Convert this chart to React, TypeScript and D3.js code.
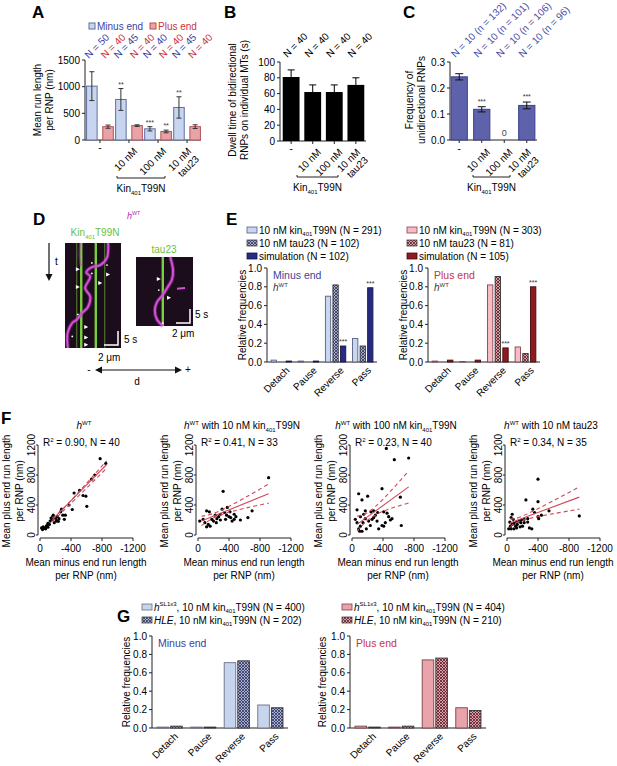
import React from 'react';
import * as d3 from 'd3';

const FONT = '"Liberation Sans", Arial, Helvetica, sans-serif';
const W = 617;
const H = 766;

const BLUE_TXT = '#3d3fa0';
const RED_TXT = '#cc3340';

// ---------- A: run length ----------
const conditions = ['-', '10 nM', '100 nM', '10 nM|tau23'];
const runMinus = [1010, 760, 210, 610];
const runMinusErr = [270, 205, 40, 200];
const runPlus = [250, 270, 160, 250];
const runPlusErr = [30, 15, 25, 35];
const runMinusN = ['N = 50', 'N = 45', 'N = 40', 'N = 45'];
const runPlusN = ['N = 40', 'N = 40', 'N = 40', 'N = 40'];
const runMinusStars = ['', '**', '***', '**'];
const runPlusStars = ['', '', '**', ''];
const runTicks = [0, 500, 1000, 1500];

// ---------- B: dwell time ----------
const dwell = [81, 62, 62, 71];
const dwellErr = [9, 9, 9, 9];
const dwellN = ['N = 40', 'N = 40', 'N = 40', 'N = 40'];
const dwellTicks = [0, 20, 40, 60, 80, 100];

// ---------- C: unidirectional ----------
const uniFreq = [0.243, 0.118, 0, 0.133];
const uniErr = [0.012, 0.01, 0, 0.013];
const uniN = ['N = 10 (n = 132)', 'N = 10 (n = 101)', 'N = 10 (n = 106)', 'N = 10 (n = 96)'];
const uniStars = ['', '***', '', '***'];
const uniTicks = [0, 0.1, 0.2, 0.3];

// ---------- D: kymographs (relative 0-1 coords) ----------
const kymo1Trace = [[0.77, 0], [0.75, 0.14], [0.63, 0.21], [0.48, 0.23], [0.38, 0.28], [0.45, 0.32], [0.36, 0.43], [0.45, 0.51], [0.41, 0.61], [0.3, 0.67], [0.21, 0.73], [0.13, 0.76], [0.05, 0.85], [0.04, 0.92], [0.05, 1]];
const kymo1Faint = [[0.27, 0], [0.26, 0.12], [0.28, 0.22]];
const kymo1Green = [0.21, 0.29, 0.55, 0.71];
const kymo1Bright = [false, true, true, false];
const kymo1Heads = [[0.23, 0.25], [0.23, 0.42], [0.38, 0.8], [0.38, 0.9], [0.38, 0.97], [0.77, 0.3], [0.63, 0.38]];
const kymo1Dots = [[0.48, 0.19], [0.48, 0.29], [0.75, 0.21], [0.23, 0.68], [0.13, 0.89]];
const kymo2Trace = [[0.6, 0], [0.65, 0.19], [0.63, 0.33], [0.56, 0.43], [0.47, 0.55], [0.37, 0.65], [0.33, 0.77], [0.37, 0.91], [0.47, 1]];
const kymo2Blip = [[0.72, 0.46], [0.86, 0.45]];
const kymo2Green = [0.47];
const kymo2Heads = [[0.4, 0.32], [0.58, 0.59]];
const kymo2Dots = [[0.4, 0.48], [0.47, 0.96]];

// ---------- E: outcomes at MT intersections ----------
const outcomes = ['Detach', 'Pause', 'Reverse', 'Pass'];
const eMinusKin = [0.02, 0.01, 0.7, 0.25];
const eMinusTau = [0, 0, 0.82, 0.17];
const eMinusSim = [0.01, 0.01, 0.17, 0.79];
const ePlusKin = [0.01, 0.005, 0.82, 0.16];
const ePlusTau = [0, 0, 0.91, 0.09];
const ePlusSim = [0.02, 0.02, 0.15, 0.8];
const eSimStars = ['', '', '***', '***'];
const freqTicks = [0, 0.2, 0.4, 0.6, 0.8, 1.0];

// ---------- F: scatter of run lengths (minus, plus) ----------
const scatterWT = [[-776, 1018], [-849, 955], [-706, 800], [-665, 745], [-510, 595], [-555, 527], [-592, 518], [-440, 560], [-604, 382], [-375, 400], [-416, 340], [-278, 345], [-265, 309], [-314, 209], [-294, 264], [-224, 245], [-163, 245], [-184, 232], [-204, 209], [-155, 209], [-131, 186], [-102, 155], [-82, 118], [-41, 109], [-20, 95], [-61, 91], [-122, 141], [-102, 105], [-143, 227], [-184, 164], [-212, 186], [-245, 218], [-73, 82], [-90, 127], [-171, 264], [-327, 264], [-237, 182], [-33, 73]];
const scatterKin10 = [[-911, 764], [-324, 582], [-111, 323], [-147, 309], [-67, 209], [-133, 141], [-156, 118], [-200, 186], [-244, 218], [-267, 245], [-289, 277], [-311, 345], [-342, 300], [-369, 264], [-400, 245], [-422, 232], [-467, 209], [-489, 245], [-547, 200], [-644, 232], [-698, 323], [-467, 277], [-222, 264], [-111, 109], [-89, 164], [-178, 209], [-378, 368], [-413, 309], [-440, 186], [-356, 209], [-22, 186], [-289, 200], [-236, 164]];
const scatterKin100 = [[-443, 1155], [-546, 1005], [-731, 1027], [-387, 618], [-624, 505], [-86, 550], [-129, 468], [-202, 518], [-65, 336], [-172, 323], [-245, 309], [-280, 323], [-301, 264], [-331, 300], [-409, 309], [-452, 291], [-473, 245], [-516, 218], [-636, 127], [-409, 118], [-430, 164], [-323, 186], [-258, 209], [-215, 186], [-172, 218], [-142, 164], [-108, 118], [-86, 82], [-129, 50], [-185, 82], [-237, 127], [-65, 164], [-43, 209], [-99, 50], [-280, 232], [-151, 277], [-344, 82], [-387, 127], [-108, 245], [-495, 200]];
const scatterTau = [[-400, 745], [-244, 468], [-400, 445], [-542, 323], [-933, 255], [-333, 345], [-356, 300], [-400, 245], [-409, 218], [-267, 218], [-222, 209], [-187, 200], [-156, 186], [-124, 173], [-89, 155], [-67, 141], [-44, 118], [-22, 82], [-53, 82], [-89, 82], [-124, 95], [-289, 95], [-320, 82], [-67, 277], [-53, 232], [-178, 164], [-222, 164], [-267, 173], [-133, 141], [-200, 118], [-36, 173], [-80, 209], [-444, 264], [-169, 109], [-111, 118]];
const fitWT = [[-160, 205], [-860, 940]];
const upWT = [[-160, 230], [-350, 405], [-860, 990]];
const loWT = [[-160, 180], [-350, 370], [-860, 890]];
const fitKin10 = [[-44, 186], [-911, 550]];
const upKin10 = [[-44, 250], [-330, 345], [-911, 680]];
const loKin10 = [[-44, 125], [-330, 280], [-911, 425]];
const fitKin100 = [[-65, 141], [-731, 641]];
const upKin100 = [[-65, 250], [-300, 377], [-731, 855]];
const loKin100 = [[-65, 50], [-300, 267], [-731, 427]];
const fitTau = [[-44, 164], [-933, 505]];
const upTau = [[-44, 218], [-250, 275], [-933, 641]];
const loTau = [[-44, 109], [-250, 210], [-933, 345]];
const scatterXTicks = [0, -400, -800, -1200];
const scatterYTicks = [0, 400, 800, 1200];

// ---------- G: other RNAs ----------
const gMinusSL = [0.01, 0.01, 0.71, 0.25];
const gMinusHLE = [0.02, 0.01, 0.73, 0.22];
const gPlusSL = [0.02, 0.01, 0.74, 0.22];
const gPlusHLE = [0.01, 0.02, 0.76, 0.19];

type Seg = { t: string; s?: 'sup' | 'sub'; i?: boolean };
function rich(segs: Seg[], fs: number) {
  let cur = 0;
  return segs.map((g, k) => {
    const target = g.s === 'sup' ? -fs * 0.42 : g.s === 'sub' ? fs * 0.28 : 0;
    const dy = target - cur;
    cur = target;
    return (
      <tspan key={k} dy={dy} fontSize={g.s ? fs * 0.6 : fs} fontStyle={g.i ? 'italic' : 'normal'}>
        {g.t}
      </tspan>
    );
  });
}

const kinSegs: Seg[] = [{ t: 'Kin' }, { t: '401', s: 'sub' }, { t: 'T99N' }];

function YAxis({ x, scale, ticks, fmt, fs = 10 }: any) {
  const [r0, r1] = scale.range();
  return (
    <g>
      <line x1={x} x2={x} y1={r0} y2={r1} stroke="#222" strokeWidth={1} />
      {ticks.map((t: number) => (
        <g key={t}>
          <line x1={x - 3} x2={x} y1={scale(t)} y2={scale(t)} stroke="#222" />
          <text x={x - 5} y={scale(t)} dy="0.36em" textAnchor="end" fontSize={fs}>
            {fmt ? fmt(t) : t}
          </text>
        </g>
      ))}
    </g>
  );
}

function YLabel({ x, y, lines, fs = 10, gap = 12 }: any) {
  return (
    <text transform={`translate(${x},${y}) rotate(-90)`} textAnchor="middle" fontSize={fs}>
      {lines.map((l: string, i: number) => (
        <tspan key={i} x={0} dy={i === 0 ? 0 : gap}>
          {l}
        </tspan>
      ))}
    </text>
  );
}

function CondLabels({ x, y, fs = 10 }: any) {
  return (
    <g>
      {conditions.map((c) => {
        const cx = x(c) + x.bandwidth() / 2;
        const parts = c.split('|');
        if (c === '-') {
          return (
            <text key={c} x={cx} y={y + 4} textAnchor="middle" fontSize={fs}>
              -
            </text>
          );
        }
        return (
          <text key={c} transform={`translate(${cx + (parts.length > 1 ? 0 : 4)},${y}) rotate(-45)`} textAnchor="end" fontSize={fs}>
            {parts.map((p, i) => (
              <tspan key={i} x={0} dy={i === 0 ? '0.7em' : '1.1em'}>
                {p}
              </tspan>
            ))}
          </text>
        );
      })}
    </g>
  );
}

function Bracket({ x1, x2, y, fs = 10 }: any) {
  return (
    <g>
      <path d={`M${x1},${y - 2}V${y}H${x2}V${y - 2}`} fill="none" stroke="#222" />
      <text x={(x1 + x2) / 2} y={y + 14} textAnchor="middle" fontSize={fs}>
        {rich(kinSegs, fs)}
      </text>
    </g>
  );
}

function ErrBar({ cx, y1, y2, w = 5, color = '#222', top = false }: any) {
  return (
    <g stroke={color} strokeWidth={1}>
      <line x1={cx} x2={cx} y1={y1} y2={y2} />
      <line x1={cx - w / 2} x2={cx + w / 2} y1={y2} y2={y2} />
      {!top && <line x1={cx - w / 2} x2={cx + w / 2} y1={y1} y2={y1} />}
    </g>
  );
}

function PanelA() {
  const x = d3.scaleBand<string>().domain(conditions).range([86, 201]).paddingInner(0.08).paddingOuter(0.02);
  const sub = d3.scaleBand<string>().domain(['m', 'p']).range([0, x.bandwidth()]).paddingInner(0.35);
  const y = d3.scaleLinear().domain([0, 1500]).range([140, 60]);
  const bw = sub.bandwidth();
  return (
    <g>
      <text x={32} y={18} fontSize={17} fontWeight="bold">A</text>
      <rect x={89} y={23} width={6} height={6} fill="#c7d5f0" stroke="#5f6e9e" />
      <text x={97} y={29.5} fontSize={10} fill={BLUE_TXT}>Minus end</text>
      <rect x={150} y={23} width={6} height={6} fill="#e9a3a6" stroke="#b3525a" />
      <text x={158} y={29.5} fontSize={10} fill={RED_TXT}>Plus end</text>
      <YAxis x={85} scale={y} ticks={runTicks} />
      <line x1={85} x2={201} y1={140} y2={140} stroke="#222" />
      <YLabel x={41} y={100} lines={['Mean run length', 'per RNP (nm)']} />
      {conditions.map((c, i) => {
        const xm = x(c)! + sub('m')!;
        const xp = x(c)! + sub('p')!;
        return (
          <g key={c}>
            <line x1={x(c)! + x.bandwidth() / 2} x2={x(c)! + x.bandwidth() / 2} y1={140} y2={143} stroke="#222" />
            <rect x={xm} y={y(runMinus[i])} width={bw} height={140 - y(runMinus[i])} fill="#c7d5f0" stroke="#5f6e9e" />
            <rect x={xp} y={y(runPlus[i])} width={bw} height={140 - y(runPlus[i])} fill="#e9a3a6" stroke="#b3525a" />
            <ErrBar cx={xm + bw / 2} y1={y(runMinus[i] - runMinusErr[i])} y2={y(runMinus[i] + runMinusErr[i])} w={5} color="#333" />
            <ErrBar cx={xp + bw / 2} y1={y(runPlus[i] - runPlusErr[i])} y2={y(runPlus[i] + runPlusErr[i])} w={5} color="#333" />
            <text x={xm + bw / 2} y={y(runMinus[i] + runMinusErr[i]) - 2} textAnchor="middle" fontSize={7} fill="#333">{runMinusStars[i]}</text>
            <text x={xp + bw / 2} y={y(runPlus[i] + runPlusErr[i]) - 2} textAnchor="middle" fontSize={7} fill="#333">{runPlusStars[i]}</text>
            <text transform={`translate(${xm + bw / 2 - 3},${59}) rotate(-45)`} fontSize={10} fill={BLUE_TXT}>{runMinusN[i]}</text>
            <text transform={`translate(${xp + bw / 2 - 3},${59}) rotate(-45)`} fontSize={10} fill={RED_TXT}>{runPlusN[i]}</text>
          </g>
        );
      })}
      <CondLabels x={x} y={147} />
      <Bracket x1={117} x2={165} y={178} />
    </g>
  );
}

function PanelB() {
  const x = d3.scaleBand<string>().domain(conditions).range([281, 366]).paddingInner(0.22).paddingOuter(0.08);
  const y = d3.scaleLinear().domain([0, 100]).range([141, 62]);
  const bw = x.bandwidth();
  return (
    <g>
      <text x={224} y={18} fontSize={17} fontWeight="bold">B</text>
      <YAxis x={280} scale={y} ticks={dwellTicks} />
      <line x1={280} x2={366} y1={141} y2={141} stroke="#222" />
      <YLabel x={236} y={100} lines={['Dwell time of bidirectional', 'RNPs on individual MTs (s)']} />
      {conditions.map((c, i) => {
        const cx = x(c)! + bw / 2;
        return (
          <g key={c}>
            <line x1={cx} x2={cx} y1={141} y2={144} stroke="#222" />
            <rect x={x(c)} y={y(dwell[i])} width={bw} height={141 - y(dwell[i])} fill="#000" />
            <ErrBar cx={cx} y1={y(dwell[i])} y2={y(dwell[i] + dwellErr[i])} w={7} color="#000" top />
            <text transform={`translate(${cx - 4},${58}) rotate(-45)`} fontSize={10}>{dwellN[i]}</text>
          </g>
        );
      })}
      <CondLabels x={x} y={148} />
      <Bracket x1={297} x2={338} y={177} />
    </g>
  );
}

function PanelC() {
  const x = d3.scaleBand<string>().domain(conditions).range([450, 536]).paddingInner(0.28).paddingOuter(0.05);
  const y = d3.scaleLinear().domain([0, 0.3]).range([140, 62]);
  const bw = x.bandwidth();
  return (
    <g>
      <text x={403} y={18} fontSize={17} fontWeight="bold">C</text>
      <YAxis x={450} scale={y} ticks={uniTicks} fmt={d3.format('.1f')} />
      <line x1={450} x2={537} y1={140} y2={140} stroke="#222" />
      <YLabel x={413} y={100} lines={['Frequency of', 'unidirectional RNPs']} />
      {conditions.map((c, i) => {
        const cx = x(c)! + bw / 2;
        return (
          <g key={c}>
            <line x1={cx} x2={cx} y1={140} y2={143} stroke="#222" />
            {uniFreq[i] > 0 && (
              <>
                <rect x={x(c)} y={y(uniFreq[i])} width={bw} height={140 - y(uniFreq[i])} fill="#5d62ab" stroke="#3b3f8c" />
                <ErrBar cx={cx} y1={y(uniFreq[i] - uniErr[i])} y2={y(uniFreq[i] + uniErr[i])} w={8} color="#111" />
              </>
            )}
            {uniFreq[i] === 0 && (
              <text x={cx} y={136} textAnchor="middle" fontSize={9} fill="#444">0</text>
            )}
            <text x={cx} y={y(uniFreq[i] + uniErr[i]) - 3} textAnchor="middle" fontSize={7} fill="#333">{uniStars[i]}</text>
            <text transform={`translate(${cx - 4},${58}) rotate(-45)`} fontSize={10} fill="#4a4fa6">{uniN[i]}</text>
          </g>
        );
      })}
      <CondLabels x={x} y={148} />
      <Bracket x1={473} x2={510} y={177} />
    </g>
  );
}

function Kymo({ x0, y0, w, h, trace, faint, green, bright, heads, dots, blip }: any) {
  const sx = d3.scaleLinear().domain([0, 1]).range([x0, x0 + w]);
  const sy = d3.scaleLinear().domain([0, 1]).range([y0, y0 + h]);
  const line = d3.line<number[]>().x((d) => sx(d[0])).y((d) => sy(d[1])).curve(d3.curveCatmullRom);
  return (
    <g>
      <rect x={x0} y={y0} width={w} height={h} fill="#1c0d1c" />
      {green.map((g: number, i: number) => (
        <line key={i} x1={sx(g)} x2={sx(g)} y1={y0} y2={y0 + h} stroke="#79cf3c" strokeWidth={bright[i] ? 2.4 : 0.9} opacity={bright[i] ? 1 : 0.7} />
      ))}
      {faint && <path d={line(faint)!} fill="none" stroke="#b53cb8" strokeWidth={2} opacity={0.55} />}
      <path d={line(trace)!} fill="none" stroke="#b23ab6" strokeWidth={4} opacity={0.45} />
      <path d={line(trace)!} fill="none" stroke="#d64fd8" strokeWidth={2} />
      {blip && <path d={line(blip)!} fill="none" stroke="#d64fd8" strokeWidth={2} />}
      {heads.map((p: number[], i: number) => (
        <path key={i} d={`M${sx(p[0]) - 2},${sy(p[1]) - 2}L${sx(p[0]) + 2},${sy(p[1])}L${sx(p[0]) - 2},${sy(p[1]) + 2}Z`} fill="#fff" />
      ))}
      {dots.map((p: number[], i: number) => (
        <circle key={i} cx={sx(p[0])} cy={sy(p[1])} r={0.9} fill="#fff" />
      ))}
      <path d={`M${x0 + w - 17},${y0 + h - 3}H${x0 + w - 3}V${y0 + h - 17}`} fill="none" stroke="#fff" strokeWidth={1.5} />
    </g>
  );
}

function PanelD() {
  return (
    <g>
      <text x={33} y={225} fontSize={17} fontWeight="bold">D</text>
      <text x={127} y={219} fontSize={9} fill="#b02ab4">{rich([{ t: 'h', i: true }, { t: 'WT', s: 'sup' }], 9)}</text>
      <text x={95} y={236} textAnchor="middle" fontSize={10} fill="#6cbf38">{rich(kinSegs, 10)}</text>
      <text x={164} y={253} textAnchor="middle" fontSize={10} fill="#6cbf38">tau23</text>
      <Kymo x0={65} y0={243} w={56} h={105} trace={kymo1Trace} faint={kymo1Faint} green={kymo1Green} bright={kymo1Bright} heads={kymo1Heads} dots={kymo1Dots} />
      <Kymo x0={136} y0={257} w={57} h={69} trace={kymo2Trace} green={kymo2Green} bright={[true]} heads={kymo2Heads} dots={kymo2Dots} blip={kymo2Blip} />
      <text x={124} y={343} fontSize={10}>5 s</text>
      <text x={98} y={361} fontSize={10}>2 μm</text>
      <text x={195} y={318} fontSize={10}>5 s</text>
      <text x={172} y={337} fontSize={10}>2 μm</text>
      <line x1={49} x2={49} y1={243} y2={276} stroke="#111" strokeWidth={1.2} />
      <path d="M45.5,274L49,281L52.5,274Z" fill="#111" />
      <text x={55} y={265} fontSize={10}>t</text>
      <line x1={100} x2={177} y1={370} y2={370} stroke="#111" strokeWidth={1.2} />
      <path d="M95,370L102,366.5L102,373.5Z" fill="#111" />
      <path d="M182,370L175,366.5L175,373.5Z" fill="#111" />
      <text x={89} y={373} fontSize={10} textAnchor="middle">-</text>
      <text x={188} y={373} fontSize={10} textAnchor="middle">+</text>
      <text x={137} y={385} fontSize={10} textAnchor="middle">d</text>
    </g>
  );
}

function FreqPanel({ xr, yr, series, fills, strokes, stars, yLabelX, tag, tagColor, showH, labelY, subPad = 0.3 }: any) {
  const x = d3.scaleBand<string>().domain(outcomes).range(xr).paddingInner(0.25).paddingOuter(0.15);
  const sub = d3.scaleBand<string>().domain(series.map((_: any, i: number) => String(i))).range([0, x.bandwidth()]).paddingInner(subPad);
  const y = d3.scaleLinear().domain([0, 1]).range(yr);
  const bw = sub.bandwidth();
  return (
    <g>
      <YAxis x={xr[0]} scale={y} ticks={freqTicks} fmt={d3.format('.1f')} />
      <line x1={xr[0]} x2={xr[1]} y1={yr[0]} y2={yr[0]} stroke="#222" />
      <YLabel x={yLabelX} y={(yr[0] + yr[1]) / 2} lines={['Relative frequencies']} />
      <text x={xr[0] + 6} y={yr[1] + 11} fontSize={10.5} fill={tagColor}>{tag}</text>
      {showH && (
        <text x={xr[0] + 6} y={yr[1] + 23} fontSize={10} fill="#333">{rich([{ t: 'h', i: true }, { t: 'WT', s: 'sup' }], 10)}</text>
      )}
      {outcomes.map((o, gi) => (
        <g key={o}>
          {series.map((s: number[], si: number) => {
            const bx = x(o)! + sub(String(si))!;
            return (
              <g key={si}>
                <rect x={bx} y={y(s[gi])} width={bw} height={yr[0] - y(s[gi])} fill={fills[si]} stroke={strokes[si]} strokeWidth={0.9} />
                {stars[si] && stars[si][gi] && (
                  <text x={bx + bw / 2} y={y(s[gi]) - 2} textAnchor="middle" fontSize={7} fill="#333">{stars[si][gi]}</text>
                )}
              </g>
            );
          })}
          <text transform={`translate(${x(o)! + x.bandwidth() / 2 + 4},${labelY}) rotate(-45)`} textAnchor="end" fontSize={10} dy="0.7em">{o}</text>
        </g>
      ))}
    </g>
  );
}

function Legend({ x, y, items, fs = 10 }: any) {
  return (
    <g>
      {items.map((it: any, i: number) => (
        <g key={i}>
          <rect x={x} y={y + i * 13 - 3} width={10} height={6} fill={it.fill} stroke={it.stroke} strokeWidth={0.8} />
          <text x={x + 12} y={y + i * 13 + 3.5} fontSize={fs}>{rich(it.segs, fs)}</text>
        </g>
      ))}
    </g>
  );
}

function PanelE() {
  return (
    <g>
      <text x={226} y={225} fontSize={17} fontWeight="bold">E</text>
      <Legend x={247} y={230} items={[
        { fill: '#c8d6f0', stroke: '#55607f', segs: [{ t: '10 nM kin' }, { t: '401', s: 'sub' }, { t: 'T99N (N = 291)' }] },
        { fill: 'url(#hatchBlue)', stroke: '#444', segs: [{ t: '10 nM tau23 (N = 102)' }] },
        { fill: '#262a80', stroke: '#15174a', segs: [{ t: 'simulation (N = 102)' }] },
      ]} />
      <FreqPanel xr={[267, 377]} yr={[362, 268]} series={[eMinusKin, eMinusTau, eMinusSim]}
        fills={['#c8d6f0', 'url(#hatchBlue)', '#262a80']} strokes={['#55607f', '#333', '#15174a']}
        stars={[null, null, eSimStars]} yLabelX={246} tag="Minus end" tagColor={BLUE_TXT} showH labelY={366} />
      <Legend x={407} y={230} items={[
        { fill: '#f4bcc4', stroke: '#8a4450', segs: [{ t: '10 nM kin' }, { t: '401', s: 'sub' }, { t: 'T99N (N = 303)' }] },
        { fill: 'url(#hatchPink)', stroke: '#444', segs: [{ t: '10 nM tau23 (N = 81)' }] },
        { fill: '#8e1b22', stroke: '#4a0a0e', segs: [{ t: 'simulation (N = 105)' }] },
      ]} />
      <FreqPanel xr={[428, 540]} yr={[362, 268]} series={[ePlusKin, ePlusTau, ePlusSim]}
        fills={['#f4bcc4', 'url(#hatchPink)', '#8e1b22']} strokes={['#8a4450', '#333', '#4a0a0e']}
        stars={[null, null, eSimStars]} yLabelX={407} tag="Plus end" tagColor={RED_TXT} showH labelY={366} />
    </g>
  );
}

function Scatter({ left, pts, fit, up, lo, title, r2 }: any) {
  const x = d3.scaleLinear().domain([0, -1200]).range([left, left + 93]);
  const y = d3.scaleLinear().domain([0, 1200]).range([535, 445]);
  const line = d3.line<number[]>().x((d) => x(d[0])).y((d) => y(d[1])).curve(d3.curveNatural);
  const ax = left - 2;
  return (
    <g>
      <text x={left + 44} y={429} textAnchor="middle" fontSize={10}>{rich(title, 10)}</text>
      <text x={left + 3} y={446} fontSize={10}>{rich(r2, 10)}</text>
      <line x1={ax} x2={ax} y1={535} y2={445} stroke="#222" />
      {scatterYTicks.map((t) => (
        <g key={t}>
          <line x1={ax - 2} x2={ax} y1={y(t)} y2={y(t)} stroke="#222" />
          <text transform={`translate(${ax - 3.5},${y(t)}) rotate(-90)`} textAnchor="middle" fontSize={10}>{t}</text>
        </g>
      ))}
      <line x1={left} x2={left + 93} y1={538} y2={538} stroke="#222" />
      {scatterXTicks.map((t) => (
        <g key={t}>
          <line x1={x(t)} x2={x(t)} y1={538} y2={541} stroke="#222" />
          <text x={x(t)} y={552} textAnchor="middle" fontSize={10}>{t === 0 ? '0' : `-${Math.abs(t)}`}</text>
        </g>
      ))}
      <YLabel x={ax - 28} y={491} lines={['Mean plus end run length', 'per RNP (nm)']} gap={13} />
      <text x={left + 46} y={566} textAnchor="middle" fontSize={10}>Mean minus end run length</text>
      <text x={left + 46} y={579} textAnchor="middle" fontSize={10}>per RNP (nm)</text>
      {pts.map((p: number[], i: number) => (
        <circle key={i} cx={x(p[0])} cy={y(p[1])} r={1.6} fill="#000" />
      ))}
      <path d={line(fit)!} fill="none" stroke="#cf4a5a" strokeWidth={1.1} />
      <path d={line(up)!} fill="none" stroke="#cf4a5a" strokeWidth={1.1} strokeDasharray="4 3" />
      <path d={line(lo)!} fill="none" stroke="#cf4a5a" strokeWidth={1.1} strokeDasharray="4 3" />
    </g>
  );
}

function PanelF() {
  const hwt: Seg[] = [{ t: 'h', i: true }, { t: 'WT', s: 'sup' }];
  return (
    <g>
      <text x={1} y={424} fontSize={17} fontWeight="bold">F</text>
      <Scatter left={40} pts={scatterWT} fit={fitWT} up={upWT} lo={loWT} title={hwt}
        r2={[{ t: 'R' }, { t: '2', s: 'sup' }, { t: ' = 0.90, N = 40' }]} />
      <Scatter left={198} pts={scatterKin10} fit={fitKin10} up={upKin10} lo={loKin10}
        title={[...hwt, { t: ' with 10 nM kin' }, { t: '401', s: 'sub' }, { t: 'T99N' }]}
        r2={[{ t: 'R' }, { t: '2', s: 'sup' }, { t: ' = 0.41, N = 33' }]} />
      <Scatter left={352} pts={scatterKin100} fit={fitKin100} up={upKin100} lo={loKin100}
        title={[...hwt, { t: ' with 100 nM kin' }, { t: '401', s: 'sub' }, { t: 'T99N' }]}
        r2={[{ t: 'R' }, { t: '2', s: 'sup' }, { t: ' = 0.23, N = 40' }]} />
      <Scatter left={507} pts={scatterTau} fit={fitTau} up={upTau} lo={loTau}
        title={[...hwt, { t: ' with 10 nM tau23' }]}
        r2={[{ t: 'R' }, { t: '2', s: 'sup' }, { t: ' = 0.34, N = 35' }]} />
    </g>
  );
}

function PanelG() {
  const sl = (n: string): Seg[] => [{ t: 'h', i: true }, { t: 'SL1x3', s: 'sup' }, { t: ', 10 nM kin' }, { t: '401', s: 'sub' }, { t: `T99N (N = ${n})` }];
  const hle = (n: string): Seg[] => [{ t: 'HLE', i: true }, { t: ', 10 nM kin' }, { t: '401', s: 'sub' }, { t: `T99N (N = ${n})` }];
  return (
    <g>
      <text x={117} y={622} fontSize={17} fontWeight="bold">G</text>
      <Legend x={142} y={607} items={[
        { fill: '#c6d4ee', stroke: '#6a6e80', segs: sl('400') },
        { fill: 'url(#hatchBlue)', stroke: '#444', segs: hle('202') },
      ]} />
      <FreqPanel xr={[152, 288]} yr={[728, 636]} series={[gMinusSL, gMinusHLE]}
        fills={['#c6d4ee', 'url(#hatchBlue)']} strokes={['#6a6e80', '#333']} stars={[null, null]}
        yLabelX={130} tag="Minus end" tagColor={BLUE_TXT} showH={false} labelY={732} subPad={0.15} />
      <Legend x={342} y={607} items={[
        { fill: '#e9a3aa', stroke: '#7a4048', segs: sl('404') },
        { fill: 'url(#hatchPink)', stroke: '#444', segs: hle('210') },
      ]} />
      <FreqPanel xr={[350, 486]} yr={[728, 636]} series={[gPlusSL, gPlusHLE]}
        fills={['#e9a3aa', 'url(#hatchPink)']} strokes={['#7a4048', '#333']} stars={[null, null]}
        yLabelX={326} tag="Plus end" tagColor={RED_TXT} showH={false} labelY={732} subPad={0.15} />
    </g>
  );
}

export default function App() {
  return (
    <svg width={W} height={H} viewBox={`0 0 ${W} ${H}`} fontFamily={FONT}
      style={{ position: 'absolute', left: 0, top: 0, background: '#fff' }}>
      <defs>
        <pattern id="hatchBlue" width="3" height="3" patternUnits="userSpaceOnUse">
          <rect width="3" height="3" fill="#a8b0cc" />
          <path d="M0,3L3,0M0,0L3,3" stroke="#2d3262" strokeWidth="0.8" />
        </pattern>
        <pattern id="hatchPink" width="3" height="3" patternUnits="userSpaceOnUse">
          <rect width="3" height="3" fill="#d9a0a8" />
          <path d="M0,3L3,0M0,0L3,3" stroke="#5a1c24" strokeWidth="0.8" />
        </pattern>
      </defs>
      <rect width={W} height={H} fill="#fff" />
      <PanelA />
      <PanelB />
      <PanelC />
      <PanelD />
      <PanelE />
      <PanelF />
      <PanelG />
    </svg>
  );
}
